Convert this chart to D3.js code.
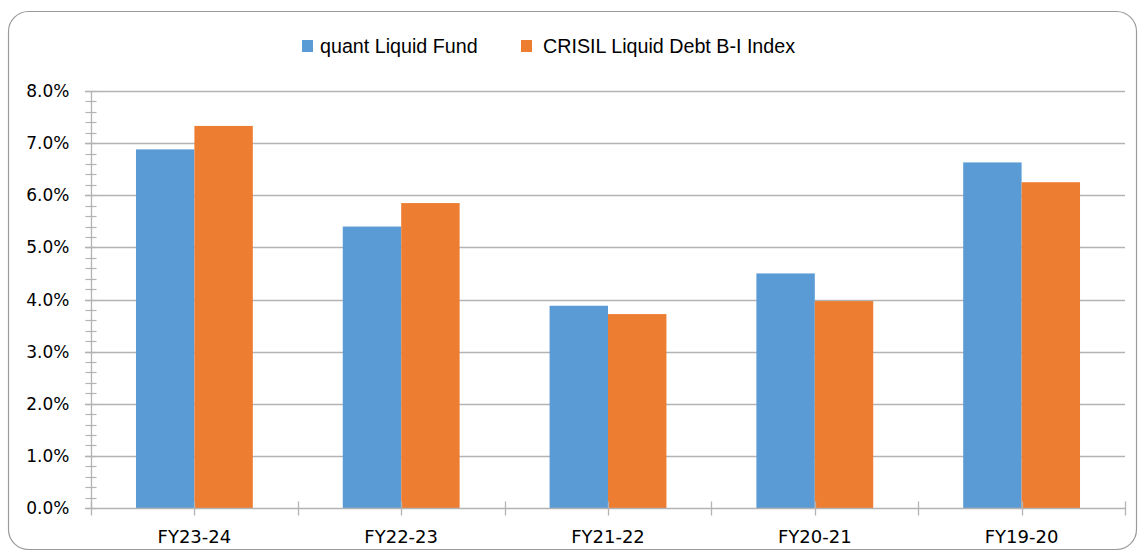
<!DOCTYPE html>
<html lang="en">
<head>
<meta charset="UTF-8">
<title>quant Liquid Fund vs CRISIL Liquid Debt B-I Index</title>
<script src="https://cdn.jsdelivr.net/npm/d3@7"></script>
<style>
    html, body { margin: 0; padding: 0; background: #ffffff; }
    #chart { width: 1140px; height: 552px; }
</style>
</head>
<body>
<div id="chart"></div>
<script>
    // data
    const categories = ["FY23-24", "FY22-23", "FY21-22", "FY20-21", "FY19-20"];
    const seriesNames = ["quant Liquid Fund", "CRISIL Liquid Debt B-I Index"];
    const fundValues = [6.88, 5.40, 3.88, 4.50, 6.63];
    const indexValues = [7.33, 5.85, 3.72, 3.97, 6.25];
    const yTicks = [0, 1, 2, 3, 4, 5, 6, 7, 8];

    const colors = ["#5b9bd5", "#ed7d31"];
    const gridColor = "#b3b3b3";
    const width = 1140, height = 552;
    const plot = { left: 91, right: 1125, top: 91, bottom: 508 };

    const svg = d3.select("#chart").append("svg")
        .attr("width", width)
        .attr("height", height);

    // outer frame
    svg.append("rect")
        .attr("x", 8.5).attr("y", 11.5)
        .attr("width", 1128).attr("height", 538)
        .attr("rx", 20).attr("ry", 20)
        .attr("fill", "#fff")
        .attr("stroke", "#9a9a9a")
        .attr("stroke-width", 1.2);

    const x = d3.scaleBand().domain(categories).range([plot.left, plot.right]);
    const xInner = d3.scaleBand().domain(seriesNames).range([0, x.bandwidth()]).paddingOuter(0.77);
    const y = d3.scaleLinear().domain([0, 8]).range([plot.bottom, plot.top]);

    // gridlines
    svg.append("g").selectAll("line")
        .data(yTicks.filter(d => d > 0))
        .join("line")
        .attr("x1", plot.left - 6).attr("x2", plot.right)
        .attr("y1", d => Math.round(y(d)) + 0.5).attr("y2", d => Math.round(y(d)) + 0.5)
        .attr("stroke", gridColor).attr("stroke-width", 1.3);

    // y axis with minor ticks
    const yAxis = svg.append("g").attr("transform", `translate(${plot.left + 0.5},0)`);
    yAxis.append("line")
        .attr("y1", plot.top).attr("y2", plot.bottom)
        .attr("stroke", gridColor).attr("stroke-width", 1.3);
    yAxis.selectAll("line.minor")
        .data(d3.range(0, 8.01, 0.2))
        .join("line").attr("class", "minor")
        .attr("x1", -6).attr("x2", 5)
        .attr("y1", d => Math.round(y(d)) + 0.5).attr("y2", d => Math.round(y(d)) + 0.5)
        .attr("stroke", gridColor).attr("stroke-width", 1.2);
    yAxis.selectAll("text")
        .data(yTicks)
        .join("text")
        .attr("x", -22).attr("y", d => y(d))
        .attr("dy", "0.36em")
        .attr("text-anchor", "end")
        .attr("font-family", "DejaVu Sans")
        .attr("font-size", 17)
        .attr("fill", "#000")
        .text(d => d3.format(".1f")(d) + "%");

    // bars
    const rows = categories.map((c, i) => ({ cat: c, values: [fundValues[i], indexValues[i]] }));
    svg.append("g").selectAll("g")
        .data(rows)
        .join("g")
        .attr("transform", d => `translate(${x(d.cat)},0)`)
        .selectAll("rect")
        .data(d => d.values.map((v, j) => ({ name: seriesNames[j], value: v, color: colors[j] })))
        .join("rect")
        .attr("x", d => xInner(d.name))
        .attr("width", xInner.bandwidth())
        .attr("y", d => y(d.value))
        .attr("height", d => y(0) - y(d.value))
        .attr("fill", d => d.color);

    // x axis
    const xAxis = svg.append("g").attr("transform", `translate(0,${plot.bottom + 0.5})`);
    xAxis.append("line")
        .attr("x1", plot.left - 6).attr("x2", plot.right)
        .attr("stroke", gridColor).attr("stroke-width", 1.3);
    const halfTicks = [];
    categories.forEach(c => { halfTicks.push(x(c)); halfTicks.push(x(c) + x.bandwidth() / 2); });
    halfTicks.push(plot.right);
    xAxis.selectAll("line.tick")
        .data(halfTicks)
        .join("line").attr("class", "tick")
        .attr("x1", d => Math.round(d) + 0.5).attr("x2", d => Math.round(d) + 0.5)
        .attr("y1", -7).attr("y2", 7)
        .attr("stroke", gridColor).attr("stroke-width", 1.3);
    xAxis.selectAll("text")
        .data(categories)
        .join("text")
        .attr("x", d => x(d) + x.bandwidth() / 2)
        .attr("y", 34)
        .attr("text-anchor", "middle")
        .attr("font-family", "DejaVu Sans")
        .attr("font-size", 18)
        .attr("fill", "#000")
        .text(d => d);

    // legend
    const legendX = [302, 521];
    const legend = svg.append("g").selectAll("g")
        .data(seriesNames)
        .join("g")
        .attr("transform", (d, i) => `translate(${legendX[i]},40)`);
    legend.append("rect")
        .attr("width", 11).attr("height", 12)
        .attr("fill", (d, i) => colors[i]);
    legend.append("text")
        .attr("x", (d, i) => i === 0 ? 18 : 22)
        .attr("y", 6)
        .attr("dy", "0.36em")
        .attr("font-family", "Liberation Sans")
        .attr("font-size", 19.7)
        .attr("fill", "#000")
        .text(d => d);
</script>
</body>
</html>
